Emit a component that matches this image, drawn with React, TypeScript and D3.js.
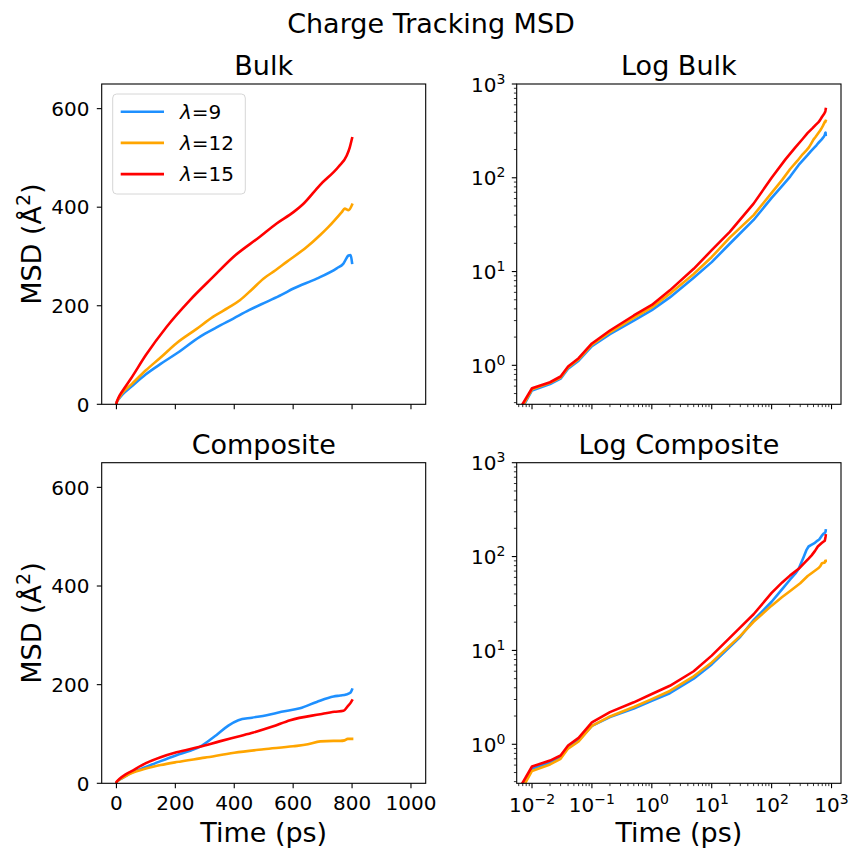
import React from "react";
import * as d3 from "d3";

// ---------- data (time in ps, MSD in Å^2) ----------
const lambdas = [9, 12, 15];

const bulkL9: [number, number][] = [
  [0.006, 0.3], [0.01, 0.54], [0.02, 0.63], [0.03, 0.72], [0.04, 0.92], [0.06, 1.12],
  [0.1, 1.6], [0.2, 2.15], [0.5, 3.0], [1, 3.88], [2, 5.3], [5, 8.6], [10, 12.6],
  [20, 19.8], [50, 35.5], [100, 61], [150, 82], [204, 103], [283, 137], [340, 156],
  [397, 174], [450, 191], [510, 208], [560, 222], [601, 235], [680, 255], [748, 276],
  [770, 285], [788, 302], [795, 303], [800, 287],
];
const bulkL12: [number, number][] = [
  [0.006, 0.31], [0.01, 0.555], [0.02, 0.65], [0.03, 0.74], [0.04, 0.95], [0.06, 1.16],
  [0.1, 1.66], [0.2, 2.25], [0.5, 3.2], [1, 4.14], [2, 5.8], [5, 9.4], [10, 14.3],
  [20, 23], [50, 40], [100, 69], [150, 95], [204, 124], [270, 152], [329, 178],
  [380, 196], [419, 211], [460, 233], [499, 255], [540, 272], [578, 289], [646, 319],
  [691, 343], [720, 360], [765, 390], [775, 397], [788, 394], [800, 405],
];
const bulkL15: [number, number][] = [
  [0.006, 0.33], [0.01, 0.57], [0.02, 0.66], [0.03, 0.76], [0.04, 0.97], [0.06, 1.19],
  [0.1, 1.71], [0.2, 2.35], [0.5, 3.4], [1, 4.4], [2, 6.3], [5, 10.7], [10, 16.9],
  [20, 26.5], [50, 53], [100, 100], [170, 157], [249, 211], [329, 259], [397, 299],
  [487, 340], [544, 367], [601, 390], [635, 407], [691, 445], [754, 482], [782, 505],
  [792, 521], [800, 540],
];
const compL9: [number, number][] = [
  [0.006, 0.31], [0.01, 0.55], [0.02, 0.64], [0.03, 0.73], [0.04, 0.92], [0.06, 1.1],
  [0.1, 1.57], [0.2, 1.95], [0.5, 2.4], [1, 2.9], [2, 3.5], [5, 5.0], [10, 7.1], [30, 14],
  [50, 21], [100, 33], [150, 45], [204, 57], [250, 66], [283, 74], [340, 98],
  [380, 117], [414, 128], [460, 133], [510, 138], [560, 145], [623, 152], [680, 165],
  [737, 176], [760, 178], [780, 180], [795, 184], [800, 190],
];
const compL12: [number, number][] = [
  [0.006, 0.29], [0.01, 0.52], [0.02, 0.61], [0.03, 0.7], [0.04, 0.9], [0.06, 1.07],
  [0.1, 1.57], [0.2, 1.98], [0.5, 2.5], [1, 3.03], [2, 3.7], [5, 5.3], [10, 7.45], [30, 14.3],
  [50, 20.2], [100, 30], [150, 37], [204, 43], [300, 52], [400, 62], [500, 69],
  [600, 75], [650, 79], [692, 85], [737, 86], [760, 86], [775, 87], [785, 90], [800, 90],
];
const compL15: [number, number][] = [
  [0.006, 0.33], [0.01, 0.58], [0.02, 0.67], [0.03, 0.76], [0.04, 0.97], [0.06, 1.17],
  [0.1, 1.71], [0.2, 2.2], [0.5, 2.8], [1, 3.43], [2, 4.2], [5, 6.0], [10, 8.8], [30, 17.6],
  [50, 24.3], [100, 41], [150, 53], [204, 63], [283, 74], [350, 85], [414, 95],
  [465, 103], [530, 115], [590, 128], [692, 140], [740, 145], [771, 147], [785, 156],
  [795, 163], [800, 168],
];

const linearXTicks = [0, 200, 400, 600, 800, 1000];
const linearYTicks = [0, 200, 400, 600];
const logXExponents = [-2, -1, 0, 1, 2, 3];
const logYExponents = [0, 1, 2, 3];

// ---------- styles ----------
const COLORS = ["#1E90FF", "#FFA500", "#FF0000"];
const FONT = "DejaVu Sans";
const LW = 2.6;

type Panel = {
  key: string;
  title: string;
  log: boolean;
  series: [number, number][][];
  x0: number; x1: number; y0: number; y1: number;
  xLabels: boolean;
  yLabel: boolean;
  legend: boolean;
};

const panels: Panel[] = [
  { key: "a", title: "Bulk", log: false, series: [bulkL9, bulkL12, bulkL15], x0: 101.7, x1: 425.7, y0: 84, y1: 404.3, xLabels: false, yLabel: true, legend: true },
  { key: "b", title: "Log Bulk", log: true, series: [bulkL9, bulkL12, bulkL15], x0: 516.7, x1: 841, y0: 84, y1: 404.3, xLabels: false, yLabel: false, legend: false },
  { key: "c", title: "Composite", log: false, series: [compL9, compL12, compL15], x0: 101.7, x1: 425.7, y0: 462.7, y1: 783.3, xLabels: true, yLabel: true, legend: false },
  { key: "d", title: "Log Composite", log: true, series: [compL9, compL12, compL15], x0: 516.7, x1: 841, y0: 462.7, y1: 783.3, xLabels: true, yLabel: false, legend: false },
];

function minorTicks(lo: number, hi: number): number[] {
  const out: number[] = [];
  for (let e = Math.floor(Math.log10(lo)); e <= Math.ceil(Math.log10(hi)); e++) {
    for (let k = 2; k <= 9; k++) {
      const v = k * Math.pow(10, e);
      if (v >= lo && v <= hi) out.push(v);
    }
  }
  return out;
}

function PanelView({ p }: { p: Panel }) {
  const xs = p.log
    ? d3.scaleLog().domain([Math.pow(10, -2.2555), Math.pow(10, 3.158)]).range([p.x0, p.x1])
    : d3.scaleLinear().domain([-50, 1050]).range([p.x0, p.x1]);
  const ys = p.log
    ? d3.scaleLog().domain([0.384, 1000]).range([p.y1, p.y0])
    : d3.scaleLinear().domain([0, 650]).range([p.y1, p.y0]);
  const line = d3
    .line<[number, number]>()
    .x((d) => xs(d[0]))
    .y((d) => ys(d[1]))
    .curve(p.log ? d3.curveLinear : d3.curveMonotoneX);
  const clipId = "clip-" + p.key;
  const cx = (p.x0 + p.x1) / 2;
  const cy = (p.y0 + p.y1) / 2;
  const tickLen = 4.9;
  const minorLen = 2.8;

  const xMajors = p.log ? logXExponents.map((e) => Math.pow(10, e)) : linearXTicks;
  const yMajors = p.log ? logYExponents.map((e) => Math.pow(10, e)) : linearYTicks;
  const xDom = xs.domain();
  const yDom = ys.domain();
  const xMinors = p.log ? minorTicks(xDom[0], xDom[1]) : [];
  const yMinors = p.log ? minorTicks(yDom[0], yDom[1]) : [];

  return (
    <g>
      <defs>
        <clipPath id={clipId}>
          <rect x={p.x0} y={p.y0} width={p.x1 - p.x0} height={p.y1 - p.y0} />
        </clipPath>
      </defs>
      <g clipPath={`url(#${clipId})`}>
        {p.series.map((s, i) => (
          <path key={i} d={line(s) || ""} fill="none" stroke={COLORS[i]} strokeWidth={LW} strokeLinejoin="round" strokeLinecap="square" />
        ))}
      </g>
      <rect x={p.x0} y={p.y0} width={p.x1 - p.x0} height={p.y1 - p.y0} fill="none" stroke="#000" strokeWidth={1.1} />
      {xMajors.map((v, i) => (
        <line key={"xm" + i} x1={xs(v)} x2={xs(v)} y1={p.y1} y2={p.y1 + tickLen} stroke="#000" strokeWidth={1.1} />
      ))}
      {xMinors.map((v, i) => (
        <line key={"xn" + i} x1={xs(v)} x2={xs(v)} y1={p.y1} y2={p.y1 + minorLen} stroke="#000" strokeWidth={0.8} />
      ))}
      {yMajors.map((v, i) => (
        <line key={"ym" + i} x1={p.x0 - tickLen} x2={p.x0} y1={ys(v)} y2={ys(v)} stroke="#000" strokeWidth={1.1} />
      ))}
      {yMinors.map((v, i) => (
        <line key={"yn" + i} x1={p.x0 - minorLen} x2={p.x0} y1={ys(v)} y2={ys(v)} stroke="#000" strokeWidth={0.8} />
      ))}
      {p.log
        ? logYExponents.map((e, i) => (
            <text key={"yl" + i} x={p.x0 - 11.4} y={ys(Math.pow(10, e)) + 7.7} textAnchor="end" fontSize={20} fontFamily={FONT}>
              10<tspan dy={-8} fontSize={14}>{String(e)}</tspan>
            </text>
          ))
        : linearYTicks.map((v, i) => (
            <text key={"yl" + i} x={p.x0 - 12.2} y={ys(v) + 7.3} textAnchor="end" fontSize={20} fontFamily={FONT}>
              {String(v)}
            </text>
          ))}
      {p.xLabels &&
        (p.log
          ? logXExponents.map((e, i) => (
              <text key={"xl" + i} x={xs(Math.pow(10, e))} y={811.5} textAnchor="middle" fontSize={20} fontFamily={FONT}>
                10<tspan dy={-8} fontSize={14}>{e < 0 ? "\u2212" + String(-e) : String(e)}</tspan>
              </text>
            ))
          : linearXTicks.map((v, i) => (
              <text key={"xl" + i} x={xs(v)} y={810} textAnchor="middle" fontSize={20} fontFamily={FONT}>
                {String(v)}
              </text>
            )))}
      <text x={cx} y={p.y0 - 8.6} textAnchor="middle" fontSize={27} fontFamily={FONT}>
        {p.title}
      </text>
      {p.xLabels && (
        <text x={cx} y={842} textAnchor="middle" fontSize={27} fontFamily={FONT}>
          Time (ps)
        </text>
      )}
      {p.yLabel && (
        <text transform={`translate(40.5,${cy}) rotate(-90)`} textAnchor="middle" fontSize={27} fontFamily={FONT}>
          MSD (Å<tspan dy={-11} fontSize={19}>2</tspan><tspan dy={11}>)</tspan>
        </text>
      )}
      {p.legend && (
        <g>
          <rect x={112.7} y={94} width={132.6} height={100} rx={4} fill="#fff" fillOpacity={0.8} stroke="#d6d6d6" strokeWidth={1} />
          {lambdas.map((lam, i) => {
            const ly = 111.7 + i * 31.2;
            return (
              <g key={"lg" + i}>
                <line x1={120.7} x2={164} y1={ly} y2={ly} stroke={COLORS[i]} strokeWidth={LW} />
                <text x={180} y={ly + 7.3} fontSize={20} fontFamily={FONT}>
                  <tspan fontStyle="italic">λ</tspan>={String(lam)}
                </text>
              </g>
            );
          })}
        </g>
      )}
    </g>
  );
}

export default function App() {
  return (
    <svg width={854} height={849} viewBox="0 0 854 849" style={{ display: "block", position: "absolute", left: 0, top: 0, background: "#fff" }}>
      <rect x={0} y={0} width={854} height={849} fill="#fff" />
      <text x={431} y={33.3} textAnchor="middle" fontSize={27} fontFamily={FONT}>
        Charge Tracking MSD
      </text>
      {panels.map((p) => (
        <PanelView key={p.key} p={p} />
      ))}
    </svg>
  );
}
